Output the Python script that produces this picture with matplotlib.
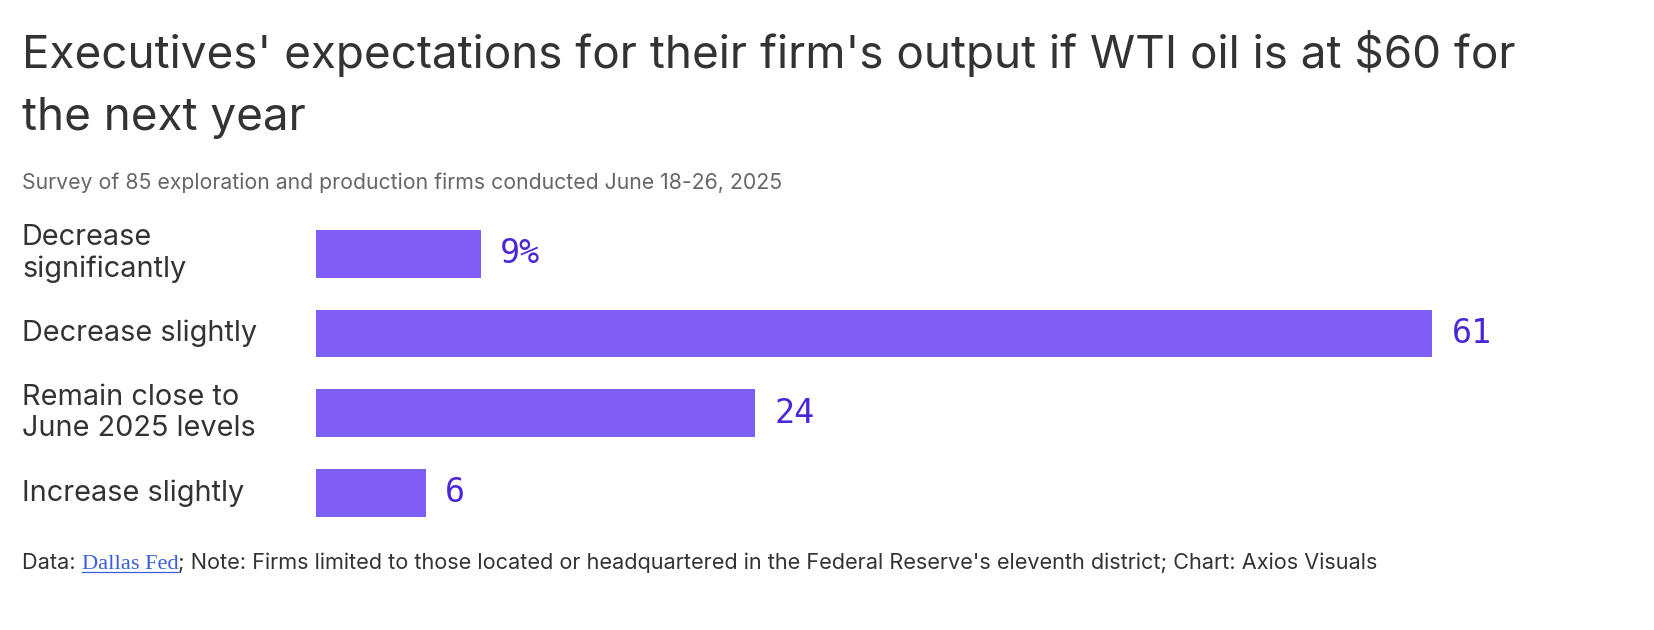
import matplotlib
matplotlib.use("Agg")
import matplotlib.pyplot as plt
from matplotlib.transforms import blended_transform_factory

categories = ["Decrease\nsignificantly", "Decrease slightly",
              "Remain close to\nJune 2025 levels", "Increase slightly"]
values = [9, 61, 24, 6]
value_labels = ["9%", "61", "24", "6"]

title_lines = ["Executives' expectations for their firm's output if WTI oil is at $60 for",
               "the next year"]
subtitle = "Survey of 85 exploration and production firms conducted June 18-26, 2025"
footer_pre = "Data: "
footer_link = "Dallas Fed"
footer_post = "; Note: Firms limited to those located or headquartered in the Federal Reserve's eleventh district; Chart: Axios Visuals"

W, H = 1654, 630
fig = plt.figure(figsize=(W / 100, H / 100), dpi=100)
fig.patch.set_facecolor("white")

# axes placed in pixels: 1 unit ~ 18.3 px, rows ~79.7 px apart
ax_left, ax_top = 316, 214
ax_w, ax_h = 70 * 18.3, 4 * 79.7
ax = fig.add_axes([ax_left / W, (H - ax_top - ax_h) / H, ax_w / W, ax_h / H])
ax.barh(range(len(values)), values, height=0.6, color="#7f5ef5")
ax.set_xlim(0, 70)
ax.set_ylim(3.5, -0.5)
ax.axis("off")

for i, (v, lab) in enumerate(zip(values, value_labels)):
    ax.annotate(lab, (v, i), xytext=(14, 0), textcoords="offset points",
                va="center", ha="left", fontsize=24, color="#4b25d6",
                family="DejaVu Sans Mono")

tr = blended_transform_factory(fig.transFigure, ax.transData)
for i, c in enumerate(categories):
    ax.text(22 / W, i, c, transform=tr, ha="left", va="center",
            fontsize=20.8, color="#333333", family="Inter", linespacing=1.2)

for k, line in enumerate(title_lines):
    fig.text(22 / W, 1 - (68 + 62 * k) / H, line, ha="left", va="baseline",
             fontsize=33, color="#333333", family="Inter")
fig.text(22 / W, 1 - 189 / H, subtitle, ha="left", va="baseline", fontsize=15.3,
         color="#666666", family="Inter")

# footer pieces laid out one after another
fig.canvas.draw()
r = fig.canvas.get_renderer()
fy = 1 - 569 / H
fs = 15.6
t1 = fig.text(22 / W, fy, footer_pre, ha="left", va="baseline", fontsize=fs,
              color="#333333", family="Inter")
x1 = t1.get_window_extent(r).x1
t2 = fig.text(x1 / W, fy, footer_link, ha="left", va="baseline", fontsize=fs + 0.5,
              color="#3a5fd8", family="Liberation Serif")
bb = t2.get_window_extent(r)
fig.add_artist(plt.Line2D([bb.x0 / W, bb.x1 / W], [fy - 3 / H, fy - 3 / H],
                          color="#3a5fd8", lw=0.9, transform=fig.transFigure))
fig.text(bb.x1 / W, fy, footer_post, ha="left", va="baseline", fontsize=fs,
         color="#333333", family="Inter")

fig.savefig("out.png", dpi=100)
